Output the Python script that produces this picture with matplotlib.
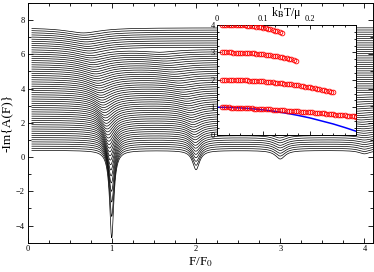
import numpy as np
import matplotlib
matplotlib.use("Agg")
import matplotlib.pyplot as plt
from matplotlib.ticker import MultipleLocator

plt.rcParams["font.family"] = ["Liberation Serif", "DejaVu Serif"]
plt.rcParams["mathtext.fontset"] = "stix"

# --- inset data: peak positions E_n / mu vs k_B T / mu (red circles)
t_n1 = np.arange(0.010, 0.3001, 0.005)
e_n1 = [0.998, 0.996, 0.994, 0.992, 0.989, 0.986, 0.983, 0.980, 0.977, 0.973,
        0.970, 0.966, 0.962, 0.958, 0.953, 0.949, 0.944, 0.939, 0.935, 0.930,
        0.925, 0.919, 0.914, 0.909, 0.903, 0.897, 0.892, 0.886, 0.880, 0.874,
        0.868, 0.861, 0.855, 0.849, 0.842, 0.835, 0.829, 0.822, 0.815, 0.808,
        0.801, 0.794, 0.786, 0.779, 0.772, 0.764, 0.757, 0.749, 0.741, 0.734,
        0.726, 0.718, 0.710, 0.702, 0.693, 0.685, 0.677, 0.668, 0.660]

t_n2 = np.arange(0.010, 0.2501, 0.005)
e_n2 = [2.000, 1.999, 1.998, 1.997, 1.996, 1.994, 1.992, 1.990, 1.987, 1.984,
        1.981, 1.977, 1.973, 1.968, 1.963, 1.958, 1.952, 1.946, 1.940, 1.933,
        1.926, 1.918, 1.910, 1.902, 1.893, 1.884, 1.874, 1.864, 1.854, 1.843,
        1.831, 1.820, 1.807, 1.795, 1.782, 1.768, 1.754, 1.739, 1.725, 1.709,
        1.693, 1.677, 1.660, 1.643, 1.625, 1.607, 1.589, 1.570, 1.550]

t_n3 = np.arange(0.010, 0.1701, 0.005)
e_n3 = [3.000, 3.000, 2.999, 2.999, 2.998, 2.996, 2.995, 2.993, 2.990, 2.987,
        2.984, 2.980, 2.975, 2.970, 2.964, 2.957, 2.949, 2.941, 2.932, 2.922,
        2.911, 2.900, 2.887, 2.873, 2.858, 2.843, 2.826, 2.808, 2.789, 2.768,
        2.747, 2.724, 2.700]

t_n4 = np.arange(0.010, 0.1401, 0.005)
e_n4 = [4.000, 4.000, 4.000, 3.999, 3.998, 3.997, 3.996, 3.994, 3.991, 3.987,
        3.983, 3.978, 3.972, 3.964, 3.955, 3.945, 3.933, 3.920, 3.904, 3.887,
        3.868, 3.846, 3.822, 3.796, 3.767, 3.735, 3.700]

# blue line (lowest level, other estimate)
t_blue = [0.0, 0.025, 0.05, 0.075, 0.1, 0.125, 0.15, 0.175, 0.2, 0.225, 0.25, 0.275, 0.3]
e_blue = [1.0, 0.994, 0.976, 0.945, 0.902, 0.847, 0.78, 0.70, 0.61, 0.50, 0.39, 0.26, 0.12]

peaks = [(t_n1, e_n1), (t_n2, e_n2), (t_n3, e_n3), (t_n4, e_n4)]

# --- main panel: one curve per temperature, shifted upward
n_curves = 58
temps = np.linspace(0.0, 0.30, n_curves)
offsets = np.linspace(0.39, 7.55, n_curves)
width0 = [0.03, 0.05, 0.07, 0.08]        # dip half-widths at T=0
width_slope = 0.73
inv_depth0 = [0.196, 0.89, 2.0, 5.0]     # 1/depth at T=0
inv_depth_slope = [10.5, 23.0, 40.0, 60.0]

F = np.linspace(0.05, 4.12, 2500)

fig = plt.figure(figsize=(3.74, 2.72), dpi=100)
ax = fig.add_axes([0.074, 0.108, 0.923, 0.881])

for T, y0 in zip(temps, offsets):
    y = np.full_like(F, y0)
    for n, (tt, ee) in enumerate(peaks):
        if T > tt[-1] + 1e-9:
            continue
        E = np.interp(T, tt, ee)
        g = width0[n] + width_slope * T
        d = 1.0 / (inv_depth0[n] + inv_depth_slope[n] * T)
        y -= d * g**2 / ((F - E)**2 + g**2)
    ax.plot(F, y, color="black", lw=0.5)

ax.set_xlim(0, 4.1)
ax.set_ylim(-5, 9)
ax.xaxis.set_major_locator(MultipleLocator(1))
ax.xaxis.set_minor_locator(MultipleLocator(0.25))
ax.yaxis.set_major_locator(MultipleLocator(2))
ax.yaxis.set_minor_locator(MultipleLocator(1))
ax.tick_params(which="both", direction="in", top=True, right=True, labelsize=6, width=0.6, pad=2)
ax.tick_params(which="major", length=3.4)
ax.tick_params(which="minor", length=1.9)
for s in ax.spines.values():
    s.set_linewidth(0.7)
ax.set_xlabel("F/F$_0$", fontsize=9.5, labelpad=1)
ax.set_ylabel("-Im{A(F)}", fontsize=9.5, labelpad=2)

# --- inset
axi = fig.add_axes([0.580, 0.505, 0.373, 0.403])
axi.set_facecolor("white")
axi.plot(t_blue, e_blue, color="blue", lw=1.1, zorder=2)
for tt, ee in peaks:
    axi.plot(tt, ee, "o", mfc="none", mec="red", ms=3.4, mew=0.6, zorder=3)
axi.set_xlim(0, 0.3)
axi.set_ylim(0, 4)
axi.yaxis.set_major_locator(MultipleLocator(1))
axi.yaxis.set_minor_locator(MultipleLocator(0.25))
axi.xaxis.set_ticks_position("both")
axi.xaxis.set_label_position("top")
axi.tick_params(which="both", direction="in", right=True, top=True,
                labeltop=True, labelbottom=False, labelsize=6, width=0.6, pad=1.5)
axi.tick_params(which="major", length=3.0)
axi.tick_params(which="minor", length=1.6)
axi.set_xticks([0, 0.1, 0.2])
axi.set_xticklabels(["0", "0.1", "0.2"])
axi.set_xticks(np.arange(0, 0.301, 0.025), minor=True)
for s in axi.spines.values():
    s.set_linewidth(0.7)
axi.set_xlabel("k$_{\\rm B}$T/μ", fontsize=8.5, labelpad=-1)

fig.savefig("out.png", dpi=100)
